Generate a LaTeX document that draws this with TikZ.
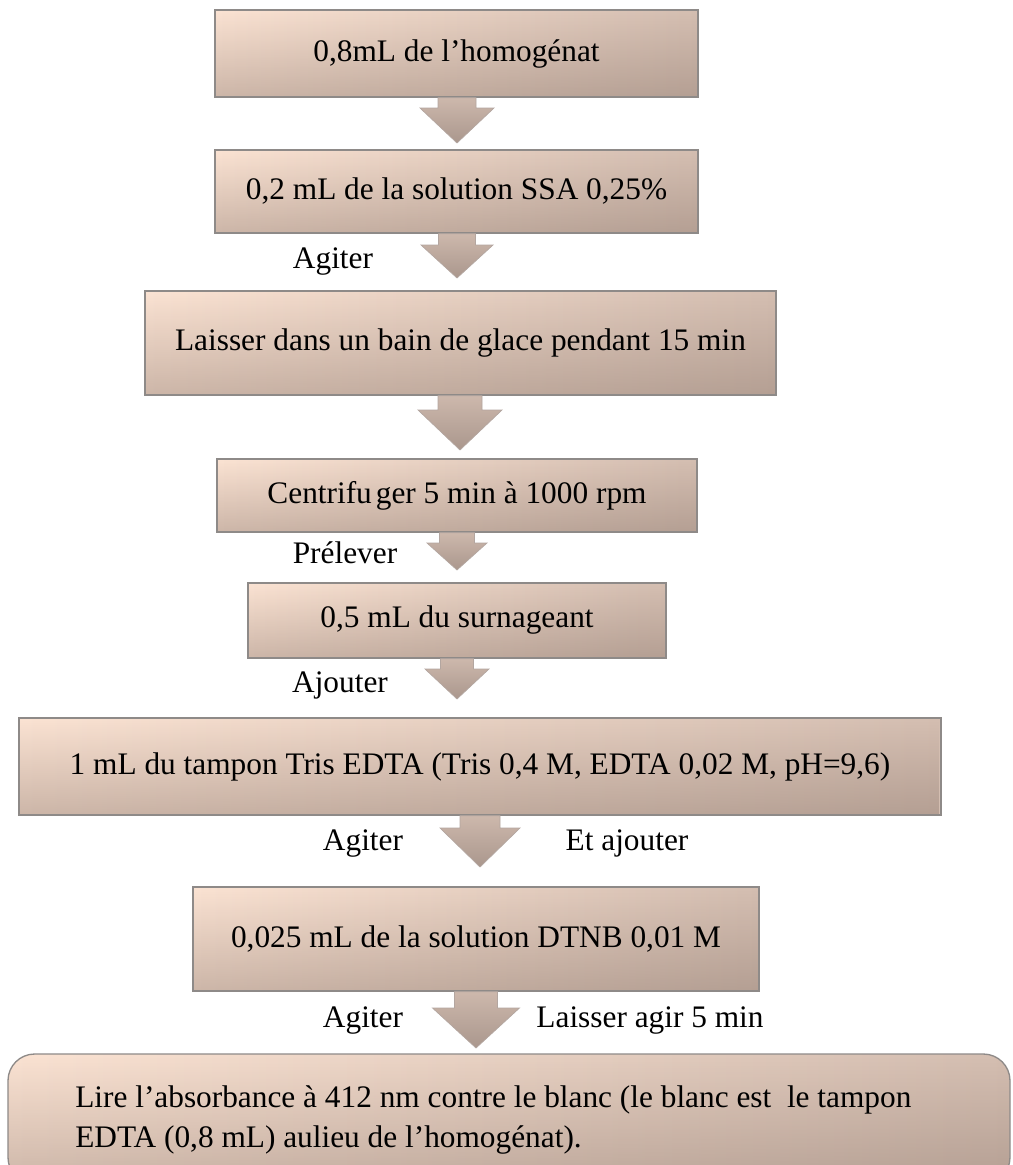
\documentclass[tikz,border=0pt]{standalone}
\usepackage{fontspec}
\setmainfont{Liberation Serif}
\usetikzlibrary{fadings}
\definecolor{bxlight}{HTML}{FBE3D3}
\definecolor{bxmid}{HTML}{D4BEB1}
\definecolor{bxshade}{HTML}{806C62}
\definecolor{bxline}{HTML}{8E8A88}
\definecolor{arlight}{HTML}{CDB8AC}
\definecolor{ardark}{HTML}{AA978D}
\definecolor{arline}{HTML}{B3A6A0}
\newcommand{\barrow}[7]{%
  \coordinate (#7l) at ({#2-#3},0);
  \coordinate (#7r) at ({#2+#3},0);
  \path[arrowfill] (#1.south -| #7l) -- ({#2-#3},#5) -- ({#2-#4},#5) -- (#2,#6)
    -- ({#2+#4},#5) -- ({#2+#3},#5) -- (#1.south -| #7r) -- cycle;
}
\begin{document}
\begin{tikzpicture}[x=0.75pt,y=-0.75pt,
  box/.style={draw=bxline, line width=1pt, left color=bxlight, right color=bxmid,
    path picture={\fill[bxshade, path fading=north, fill opacity=0.38]
      (path picture bounding box.south west) rectangle (path picture bounding box.north east);},
    inner sep=0pt, font=\fontsize{23.5}{28}\selectfont, text=black},
  lbl/.style={font=\fontsize{23.5}{28}\selectfont, inner sep=0pt, text=black},
  arrowfill/.style={draw=arline, line width=0.5pt, top color=arlight, bottom color=ardark}]
\useasboundingbox (0,0) rectangle (1013,1165);
\fill[white] (0,0) rectangle (1013,1165);
\begin{scope}
\clip (0,0) rectangle (1013,1165);
\node[box, minimum width=483*0.75pt, minimum height=87*0.75pt] (b1) at (456.5,53.5) {0,8mL de l’homogénat};
\node[box, minimum width=483*0.75pt, minimum height=83*0.75pt] (b2) at (456.5,191.5) {0,2 mL de la solution SSA 0,25\%};
\node[box, minimum width=631*0.75pt, minimum height=104*0.75pt] (b3) at (460.5,343) {Laisser dans un bain de glace pendant 15 min};
\node[box, minimum width=480*0.75pt, minimum height=73*0.75pt] (b4) at (457,495.5) {Centrifu\kern3pt ger 5 min à 1000 rpm};
\node[box, minimum width=418*0.75pt, minimum height=75*0.75pt] (b5) at (457,620.5) {0,5 mL du surnageant};
\node[box, minimum width=922*0.75pt, minimum height=97*0.75pt] (b6) at (480,766.5) {1 mL du tampon Tris EDTA (Tris 0,4 M, EDTA 0,02 M, pH=9,6)};
\node[box, minimum width=566*0.75pt, minimum height=104*0.75pt] (b7) at (476,939) {0,025 mL de la solution DTNB 0,01 M};
\node[box, rounded corners=20pt, minimum width=1002*0.75pt, minimum height=130*0.75pt] (b8) at (509,1119) {};
\node[lbl, anchor=west, align=left, font=\fontsize{23.5}{30}\selectfont] (t8) at (75,1120)
  {Lire l’absorbance à 412 nm contre le blanc (le blanc est\ \ le tampon\\EDTA (0,8 mL) aulieu de l’homogénat).};
\end{scope}
\barrow{b1}{457}{19}{37}{108}{143}{a1}
\barrow{b2}{457}{18.5}{36}{245}{278}{a2}
\barrow{b3}{460}{22}{42}{410}{450}{a3}
\barrow{b4}{457}{17.5}{30}{543}{570}{a4}
\barrow{b5}{457}{16.5}{32}{669}{699}{a5}
\barrow{b6}{480}{20}{40}{828}{867}{a6}
\barrow{b7}{476}{21.5}{43.5}{1008}{1048}{a7}
\node[lbl] (l1) at (333,262) {Agiter};
\node[lbl] (l2) at (345,553) {Prélever};
\node[lbl] (l3) at (340,685) {Ajouter};
\node[lbl] (l4) at (363,843) {Agiter};
\node[lbl] (l5) at (627,843) {Et ajouter};
\node[lbl] (l6) at (363,1020) {Agiter};
\node[lbl] (l7) at (650,1020) {Laisser agir 5 min};
\end{tikzpicture}
\end{document}
